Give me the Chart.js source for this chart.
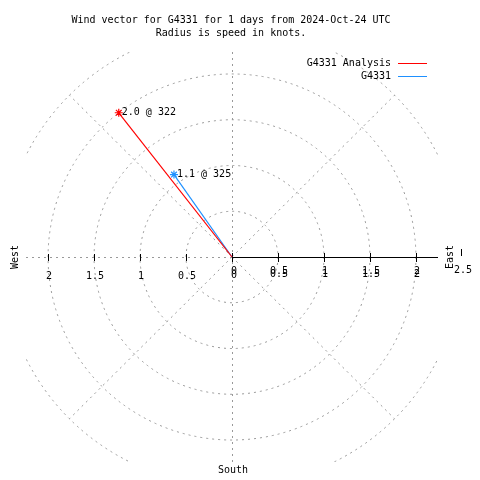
<!DOCTYPE html>
<html>
<head>
<meta charset="utf-8">
<script src="https://cdn.jsdelivr.net/npm/chart.js@4"></script>
<style>
  body { margin: 0; background: #fff; }
  #wind { display: block; }
</style>
</head>
<body>
<canvas id="wind" width="480" height="480"></canvas>
<script>
const titleLines = ["Wind vector for G4331 for 1 days from 2024-Oct-24 UTC", "Radius is speed in knots."];
const seriesNames = ["G4331 Analysis", "G4331"];
const speeds = [2.0, 1.1];
const directions = [322, 325];
const seriesColors = ["#ff0000", "#1e90ff"];
const ringValues = [0.5, 1, 1.5, 2, 2.5];
const tickValues = [0.5, 1, 1.5, 2];
const tickLabels = ["0.5", "1", "1.5", "2"];
const compass = ["East", "South", "West"];

const FONT = "10px 'DejaVu Sans Mono', 'Liberation Mono', monospace";
const GRID = "#999999";

// speed/direction -> x (east) / y (north)
function toXY(speed, dir) {
    let a = dir * Math.PI / 180;
    return { x: speed * Math.sin(a), y: speed * Math.cos(a) };
}

var datasets = [];
for (let i = 0; i < speeds.length; i++) {
    let p = toXY(speeds[i], directions[i]);
    datasets.push({
        label: seriesNames[i],
        data: [{ x: 0, y: 0 }, p],
        borderColor: seriesColors[i],
        backgroundColor: seriesColors[i],
        borderWidth: 1.2,
        showLine: true,
        pointStyle: "star",
        pointRadius: [0, 4],
        pointBorderWidth: 1.2
    });
}

var polarGrid = {
    id: "polarGrid",
    beforeDatasetsDraw(chart) {
        const ctx = chart.ctx;
        const area = chart.chartArea;
        const sx = chart.scales.x, sy = chart.scales.y;
        const cx = sx.getPixelForValue(0), cy = sy.getPixelForValue(0);
        const kx = sx.getPixelForValue(1) - cx;
        const ky = cy - sy.getPixelForValue(1);

        ctx.save();
        ctx.beginPath();
        ctx.rect(area.left, area.top, area.right - area.left, area.bottom - area.top);
        ctx.clip();
        ctx.strokeStyle = GRID;
        ctx.lineWidth = 1;
        ctx.setLineDash([2, 4]);
        ringValues.forEach(r => {
            ctx.beginPath();
            ctx.ellipse(cx, cy, r * kx, r * ky, 0, 0, Math.PI * 2);
            ctx.stroke();
        });
        const rMax = ringValues[ringValues.length - 1];
        for (let a = 45; a < 360; a += 90) {
            let p = toXY(rMax, a);
            ctx.beginPath();
            ctx.moveTo(cx, cy);
            ctx.lineTo(cx + p.x * kx, cy - p.y * ky);
            ctx.stroke();
        }
        ctx.beginPath();
        ctx.moveTo(cx + 0.5, area.top);
        ctx.lineTo(cx + 0.5, area.bottom);
        ctx.moveTo(area.left, cy + 0.5);
        ctx.lineTo(cx, cy + 0.5);
        ctx.stroke();
        ctx.restore();

        // radial axis (east side)
        ctx.save();
        ctx.strokeStyle = "#000";
        ctx.lineWidth = 1;
        ctx.beginPath();
        ctx.moveTo(cx, cy + 0.5);
        ctx.lineTo(area.right, cy + 0.5);
        tickValues.forEach(v => {
            let px = Math.round(sx.getPixelForValue(v)) + 0.5;
            ctx.moveTo(px, cy - 4);
            ctx.lineTo(px, cy + 5);
            let qx = Math.round(sx.getPixelForValue(-v)) + 0.5;
            ctx.moveTo(qx, cy - 3);
            ctx.lineTo(qx, cy + 4);
        });
        let ex = Math.round(sx.getPixelForValue(ringValues[ringValues.length - 1])) - 0.5;
        ctx.moveTo(ex, cy - 8);
        ctx.lineTo(ex, cy - 1);
        ctx.moveTo(Math.round(cx) + 0.5, cy - 4);
        ctx.lineTo(Math.round(cx) + 0.5, cy + 5);
        ctx.stroke();
        ctx.restore();
    },
    afterDraw(chart) {
        const ctx = chart.ctx;
        const sx = chart.scales.x, sy = chart.scales.y;
        const cx = sx.getPixelForValue(0), cy = sy.getPixelForValue(0);

        ctx.save();
        ctx.font = FONT;
        ctx.fillStyle = "#000";
        ctx.textBaseline = "middle";

        // title
        ctx.textAlign = "center";
        ctx.fillText(titleLines[0], 231, 20);
        ctx.fillText(titleLines[1], 231, 33);

        // tick labels
        tickLabels.forEach((t, i) => {
            ctx.fillText(t, sx.getPixelForValue(tickValues[i]) + 1, cy + 14);
            ctx.fillText(t, sx.getPixelForValue(tickValues[i]) + 1, cy + 17);
            ctx.fillText(t, sx.getPixelForValue(-tickValues[i]) + 1, cy + 19);
        });
        ctx.fillText("0", cx + 2, cy + 14);
        ctx.fillText("0", cx + 2, cy + 18);
        ctx.textAlign = "left";
        ctx.fillText("2.5", 454, cy + 13);

        // compass labels
        ctx.textAlign = "center";
        ctx.fillText(compass[1], cx + 1, 470);
        [[compass[0], 450], [compass[2], 15]].forEach(c => {
            ctx.save();
            ctx.translate(c[1], cy);
            ctx.rotate(-Math.PI / 2);
            ctx.fillText(c[0], 0, 0);
            ctx.restore();
        });

        // point labels
        ctx.textAlign = "left";
        chart.data.datasets.forEach((ds, i) => {
            let pt = chart.getDatasetMeta(i).data[1];
            ctx.fillText(speeds[i].toFixed(1) + " @ " + directions[i], pt.x + 3, pt.y);
        });

        // legend
        seriesNames.forEach((name, i) => {
            let y = 63 + i * 13;
            ctx.textAlign = "right";
            ctx.fillStyle = "#000";
            ctx.fillText(name, 391, y);
            ctx.strokeStyle = seriesColors[i];
            ctx.lineWidth = 1;
            ctx.beginPath();
            ctx.moveTo(398, y + 0.5);
            ctx.lineTo(427, y + 0.5);
            ctx.stroke();
        });
        ctx.restore();
    }
};

var ctx = document.getElementById("wind").getContext("2d");

var config = {
    type: "scatter",
    data: { datasets: datasets },
    options: {
        responsive: false,
        animation: false,
        layout: { padding: { left: 26, right: 42, top: 52, bottom: 18 } },
        scales: {
            x: { type: "linear", min: -2.24, max: 2.24, display: false },
            y: { type: "linear", min: -2.24, max: 2.24, display: false }
        },
        plugins: {
            legend: { display: false },
            tooltip: { enabled: false }
        }
    },
    plugins: [polarGrid]
};

var chart = new Chart(ctx, config);
</script>
</body>
</html>
